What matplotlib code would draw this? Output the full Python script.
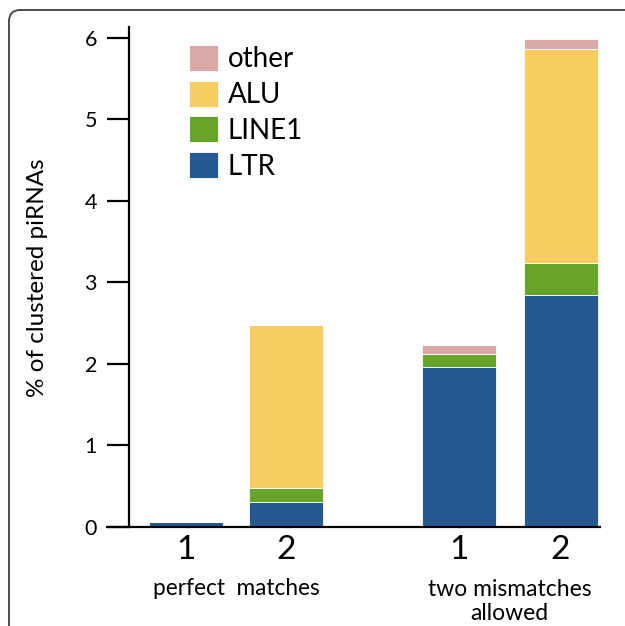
import matplotlib
matplotlib.use('Agg')
from matplotlib import pyplot as plt
from matplotlib.patches import FancyBboxPatch
import numpy as np

plt.rcParams['font.family'] = ['Lato', 'DejaVu Sans']

bar_labels = ['1', '2', '1', '2']
groups = ['perfect  matches', 'two mismatches\nallowed']
series = ['LTR', 'LINE1', 'ALU', 'other']
ltr = [0.06, 0.31, 1.96, 2.84]
line1 = [0.0, 0.17, 0.16, 0.40]
alu = [0.0, 2.00, 0.0, 2.62]
other = [0.0, 0.0, 0.11, 0.12]
colors = ['#255994', '#66a52a', '#f7cd62', '#dba8a8']

pos = np.array([0, 1, 2.73, 3.745])

fig = plt.figure(figsize=(6.25, 6.26), dpi=100)
W, H = 625, 626
ax = fig.add_axes([107 / W, 1 - 527 / H, (600 - 107) / W, (527 - 27) / H])

bottom = np.zeros(4)
handles = []
for vals, c, name in zip([ltr, line1, alu, other], colors, series):
    h = ax.bar(pos, vals, 0.74, bottom=bottom, color=c, edgecolor='white',
               linewidth=0.6, label=name)
    handles.append(h)
    bottom += np.array(vals)

ax.set_xlim(-0.79, 4.14)
ax.set_ylim(0, 6.13)
ax.spines['left'].set_position(('data', -0.57))
ax.spines['top'].set_visible(False)
ax.spines['right'].set_visible(False)
for s in ['left', 'bottom']:
    ax.spines[s].set_linewidth(1.6)
ax.set_yticks(range(7))
ax.tick_params(axis='y', length=16, width=1.6, labelsize=15.5, pad=7)
ax.set_xticks(pos)
ax.set_xticklabels(bar_labels)
ax.tick_params(axis='x', length=0, labelsize=24, pad=6)

leg = ax.legend(handles[::-1], series[::-1], loc='upper left',
                bbox_to_anchor=(0.143, 0.986), frameon=False, fontsize=20,
                handlelength=1.05, handleheight=1.05, labelspacing=0.3,
                handletextpad=0.35, borderaxespad=0)

ax.text(0.5, -0.75, groups[0], ha='center', va='center', fontsize=16.3,
        clip_on=False)
ax.text((pos[2] + pos[3]) / 2, -0.91, groups[1], ha='center', va='center',
        fontsize=16.5, linespacing=1.15, clip_on=False)

fig.text(38 / W, 1 - 278 / H, '% of clustered piRNAs', rotation=90,
         ha='center', va='center', fontsize=17.5)

frame = FancyBboxPatch((9 / W, -0.1), 1.1, 1 - 10 / H + 0.1,
                       boxstyle='round,pad=0,rounding_size=0.018',
                       transform=fig.transFigure, facecolor='none',
                       edgecolor='#404040', linewidth=1.3, clip_on=False)
fig.patches.append(frame)

fig.savefig('out.png', dpi=100)
